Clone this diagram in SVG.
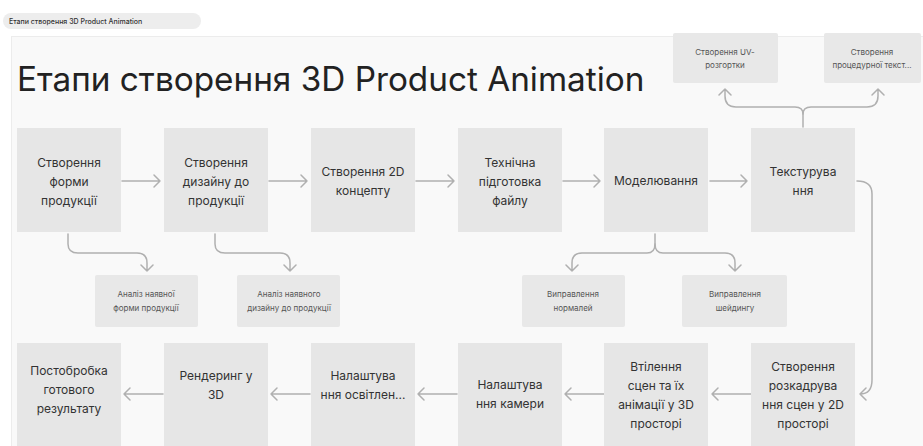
<svg xmlns="http://www.w3.org/2000/svg" width="923" height="446" viewBox="0 0 923 446">
<defs>
<style>
.bg{fill:#ffffff}
.frame{fill:#f9f9f9;stroke:#ececec;stroke-width:1}
.box{fill:#e6e6e6}
.sbox{fill:#e8e8e8}
.t{font-family:Inter,"Noto Sans",sans-serif;font-size:12px;fill:#333;text-anchor:middle}
.st{font-family:Inter,"Noto Sans",sans-serif;font-size:8px;fill:#555;text-anchor:middle}
.title{font-family:Inter,"Noto Sans",sans-serif;font-size:33.3px;fill:#222}
.tab{font-family:Inter,"Noto Sans",sans-serif;font-size:7px;font-weight:500;fill:#333}
.c{fill:none;stroke:#b0b0b0;stroke-width:1.5;stroke-linecap:round;stroke-linejoin:round}
</style>
</defs>
<rect class="bg" x="0" y="0" width="923" height="446"/>
<rect x="3" y="13" width="198" height="16" rx="8" fill="#ededed"/>
<text class="tab" x="9" y="24">Етапи створення 3D Product Animation</text>
<rect class="frame" x="11.5" y="36.5" width="920" height="420"/>
<text class="title" x="17" y="91">Етапи створення 3D Product Animation</text>

<g id="connectors">
<path class="c" d="M122 181 H160 M154 175 L160 181 L154 187"/>
<path class="c" d="M269 181 H307 M301 175 L307 181 L301 187"/>
<path class="c" d="M416 181 H454 M448 175 L454 181 L448 187"/>
<path class="c" d="M563 181 H600 M594 175 L600 181 L594 187"/>
<path class="c" d="M710 181 H747 M741 175 L747 181 L741 187"/>
<path class="c" d="M857 181 Q872 181 872 194 V380 Q872 394 860 394 M866 388 L860 394 L866 400"/>
<path class="c" d="M751 394 H712 M718 388 L712 394 L718 400"/>
<path class="c" d="M604 394 H565 M571 388 L565 394 L571 400"/>
<path class="c" d="M457 394 H418 M424 388 L418 394 L424 400"/>
<path class="c" d="M310 394 H271 M277 388 L271 394 L277 400"/>
<path class="c" d="M163 394 H124 M130 388 L124 394 L130 400"/>
<path class="c" d="M803 127 V114 Q803 107 795 107 H736 Q725 107 725 96 V89 M719 95 L725 89 L731 95"/>
<path class="c" d="M803 114 Q803 107 811 107 H867 Q878 107 878 96 V89 M872 95 L878 89 L884 95"/>
<path class="c" d="M68 234 V244 Q68 253 78 253 H137 Q147 253 147 263 V271 M141 265 L147 271 L153 265"/>
<path class="c" d="M215 234 V244 Q215 253 225 253 H280 Q290 253 290 263 V271 M284 265 L290 271 L296 265"/>
<path class="c" d="M655 234 V244 Q655 253 647 253 H582 Q572 253 572 263 V271 M566 265 L572 271 L578 265"/>
<path class="c" d="M655 244 Q655 253 663 253 H725 Q735 253 735 263 V271 M729 265 L735 271 L741 265"/>
</g>

<g id="n1"><rect class="box" x="17" y="128" width="104" height="104"/>
<text class="t" x="69" y="167">Створення</text><text class="t" x="69" y="186">форми</text><text class="t" x="69" y="205">продукції</text></g>
<g id="n2"><rect class="box" x="164" y="128" width="104" height="104"/>
<text class="t" x="216" y="167">Створення</text><text class="t" x="216" y="186">дизайну до</text><text class="t" x="216" y="205">продукції</text></g>
<g id="n3"><rect class="box" x="311" y="128" width="104" height="104"/>
<text class="t" x="363" y="176">Створення 2D</text><text class="t" x="363" y="195">концепту</text></g>
<g id="n4"><rect class="box" x="458" y="128" width="104" height="104"/>
<text class="t" x="510" y="167">Технічна</text><text class="t" x="510" y="186">підготовка</text><text class="t" x="510" y="205">файлу</text></g>
<g id="n5"><rect class="box" x="604" y="128" width="104" height="104"/>
<text class="t" x="656" y="185">Моделювання</text></g>
<g id="n6"><rect class="box" x="751" y="128" width="104" height="104"/>
<text class="t" x="803" y="176">Текстурува</text><text class="t" x="803" y="195">ння</text></g>

<g id="s1"><rect class="sbox" x="673" y="33" width="105" height="50" rx="2"/>
<text class="st" x="725" y="55">Створення UV-</text><text class="st" x="725" y="68">розгортки</text></g>
<g id="s2"><rect class="sbox" x="824" y="33" width="97" height="50" rx="2"/>
<text class="st" x="872" y="55">Створення</text><text class="st" x="872" y="68">процедурної текст...</text></g>

<g id="s3"><rect class="sbox" x="95" y="275" width="103" height="52" rx="2"/>
<text class="st" x="146" y="297">Аналіз наявної</text><text class="st" x="146" y="311">форми продукції</text></g>
<g id="s4"><rect class="sbox" x="237" y="275" width="103" height="52" rx="2"/>
<text class="st" x="289" y="297">Аналіз наявного</text><text class="st" x="289" y="311">дизайну до продукції</text></g>
<g id="s5"><rect class="sbox" x="522" y="275" width="103" height="52" rx="2"/>
<text class="st" x="573" y="297">Виправлення</text><text class="st" x="573" y="311">нормалей</text></g>
<g id="s6"><rect class="sbox" x="682" y="275" width="105" height="52" rx="2"/>
<text class="st" x="735" y="297">Виправлення</text><text class="st" x="735" y="311">шейдингу</text></g>

<g id="n7"><rect class="box" x="751" y="343" width="104" height="104"/>
<text class="t" x="803" y="371">Створення</text><text class="t" x="803" y="390">розкадрува</text><text class="t" x="803" y="409">ння сцен у 2D</text><text class="t" x="803" y="428">просторі</text></g>
<g id="n8"><rect class="box" x="604" y="343" width="104" height="104"/>
<text class="t" x="656" y="371">Втілення</text><text class="t" x="656" y="390">сцен та їх</text><text class="t" x="656" y="409">анімації у 3D</text><text class="t" x="656" y="428">просторі</text></g>
<g id="n9"><rect class="box" x="458" y="343" width="104" height="104"/>
<text class="t" x="510" y="389">Налаштува</text><text class="t" x="510" y="408">ння камери</text></g>
<g id="n10"><rect class="box" x="311" y="343" width="104" height="104"/>
<text class="t" x="363" y="380">Налаштува</text><text class="t" x="363" y="399">ння освітлен...</text></g>
<g id="n11"><rect class="box" x="164" y="343" width="104" height="104"/>
<text class="t" x="216" y="380">Рендеринг у</text><text class="t" x="216" y="399">3D</text></g>
<g id="n12"><rect class="box" x="17" y="343" width="104" height="104"/>
<text class="t" x="69" y="375">Постобробка</text><text class="t" x="69" y="394">готового</text><text class="t" x="69" y="413">результату</text></g>
</svg>
